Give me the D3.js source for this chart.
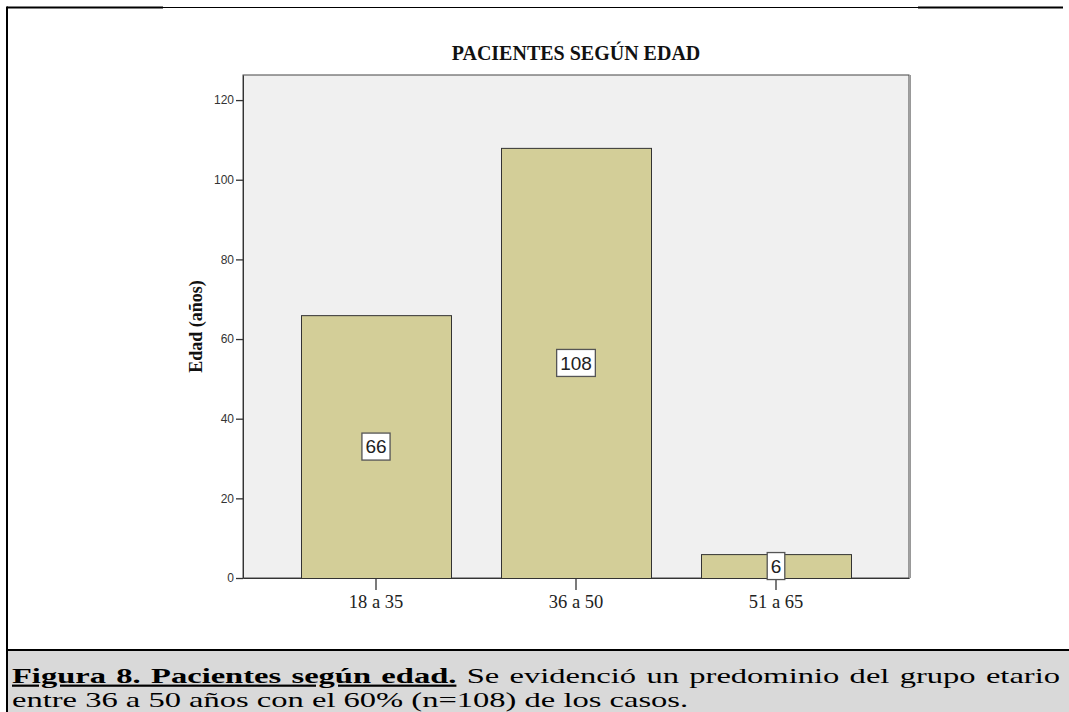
<!DOCTYPE html>
<html><head><meta charset="utf-8">
<script src="https://cdn.jsdelivr.net/npm/d3@7"></script>
<style>
html,body{margin:0;padding:0;background:#fff;}
svg{display:block;}
</style></head>
<body>
<svg id="chart" width="1069" height="712"></svg>
<script>
const categories = ["18 a 35", "36 a 50", "51 a 65"];
const values = [66, 108, 6];
const yTicks = [0, 20, 40, 60, 80, 100, 120];
const title = "PACIENTES SEGÚN EDAD";
const yLabel = "Edad (años)";
const captionBold = "Figura 8. Pacientes según edad.";
const captionLine1 = " Se evidenció un predominio del grupo etario";
const captionLine2 = "entre 36 a 50 años con el 60% (n=108) de los casos.";

const svg = d3.select("#chart");
const plot = {left: 243, right: 909, top: 75, bottom: 578};
const serif = "Liberation Serif, Times New Roman, serif";

// outer frame
svg.append("rect").attr("x", 0).attr("y", 0).attr("width", 1069).attr("height", 712).attr("fill", "#fff");
svg.append("rect").attr("x", 7).attr("y", 650).attr("width", 1062).attr("height", 62).attr("fill", "#d9d9d9");
svg.append("line").attr("x1", 7).attr("x2", 163).attr("y1", 7.5).attr("y2", 7.5).attr("stroke", "#000").attr("stroke-width", 2);
svg.append("line").attr("x1", 163).attr("x2", 918).attr("y1", 7.5).attr("y2", 7.5).attr("stroke", "#000").attr("stroke-width", 1);
svg.append("line").attr("x1", 918).attr("x2", 1063).attr("y1", 7.5).attr("y2", 7.5).attr("stroke", "#000").attr("stroke-width", 2);
svg.append("line").attr("x1", 7).attr("x2", 7).attr("y1", 6.5).attr("y2", 712).attr("stroke", "#000").attr("stroke-width", 2);
svg.append("line").attr("x1", 6).attr("x2", 1069).attr("y1", 650).attr("y2", 650).attr("stroke", "#000").attr("stroke-width", 2);

// scales
const x = d3.scaleBand().domain(categories).range([plot.left, plot.right]).paddingInner(0.25).paddingOuter(0.29);
const y = d3.scaleLinear().domain([0, 126.3]).range([plot.bottom, plot.top]);

// plot background
svg.append("rect").attr("x", plot.left).attr("y", plot.top)
  .attr("width", plot.right - plot.left).attr("height", plot.bottom - plot.top)
  .attr("fill", "#f0f0f0").attr("stroke", "#444").attr("stroke-width", 1);
svg.append("line").attr("x1", plot.right + 1.5).attr("x2", plot.right + 1.5)
  .attr("y1", plot.top).attr("y2", plot.bottom).attr("stroke", "#999").attr("stroke-width", 1);

// bars
svg.append("g").selectAll("rect").data(values).join("rect")
  .attr("x", (d, i) => x(categories[i]) + 0.5)
  .attr("y", d => y(d) + 0.5)
  .attr("width", x.bandwidth())
  .attr("height", d => y(0) - y(d))
  .attr("fill", "#d3ce98").attr("stroke", "#333").attr("stroke-width", 1);

// y axis
const yAxis = d3.axisLeft(y).tickValues(yTicks).tickSize(7).tickSizeOuter(0).tickPadding(2);
const yg = svg.append("g").attr("transform", `translate(${plot.left},0)`).call(yAxis);
yg.select(".domain").attr("stroke", "#333");
yg.selectAll(".tick line").attr("stroke", "#333").attr("stroke-width", 1.3);
yg.selectAll(".tick text").attr("font-family", "Liberation Sans, Arial, sans-serif").attr("font-size", 12).attr("fill", "#333");

// x axis
const xAxis = d3.axisBottom(x).tickSize(12).tickSizeOuter(0).tickPadding(4.5);
const xg = svg.append("g").attr("transform", `translate(0,${plot.bottom})`).call(xAxis);
xg.select(".domain").attr("stroke", "#333");
xg.selectAll(".tick line").attr("stroke", "#333").attr("stroke-width", 1.3);
xg.selectAll(".tick text").attr("font-family", serif).attr("font-size", 18.5).attr("fill", "#222");

// value labels
const lab = svg.append("g").selectAll("g").data(values).join("g")
  .attr("transform", (d, i) => `translate(${x(categories[i]) + x.bandwidth() / 2},${y(d / 2)})`);
lab.each(function(d) {
  const g = d3.select(this);
  const r = g.append("rect");
  const t = g.append("text").text(d)
    .attr("font-family", "Liberation Sans Narrow, Arial Narrow, sans-serif").attr("font-size", 19)
    .attr("fill", "#222").attr("text-anchor", "middle").attr("dy", "0.36em");
  const w = t.node().getComputedTextLength() + 7;
  r.attr("x", -w / 2).attr("y", -13.5).attr("width", w).attr("height", 27)
    .attr("fill", "#fff").attr("stroke", "#555").attr("stroke-width", 1.3);
});

// title
svg.append("text").attr("x", (plot.left + plot.right) / 2).attr("y", 60)
  .attr("text-anchor", "middle").attr("font-family", serif)
  .attr("font-weight", "bold").attr("font-size", 20).attr("fill", "#111").text(title);

// y label
svg.append("text").attr("transform", `translate(202,${(plot.top + plot.bottom) / 2}) rotate(-90)`)
  .attr("text-anchor", "middle").attr("font-family", serif)
  .attr("font-weight", "bold").attr("font-size", 18).attr("fill", "#111").text(yLabel);

// caption (text in the source is horizontally stretched)
const capSize = 22, sx = 1.48;
const capG = svg.append("g").attr("transform", `translate(12,0) scale(${sx},1)`);
const cap1 = capG.append("text").attr("x", 0).attr("y", 683)
  .attr("font-family", serif).attr("font-size", capSize).attr("fill", "#000");
cap1.append("tspan").attr("font-weight", "bold").attr("text-decoration", "underline").text(captionBold);
cap1.append("tspan").text(captionLine1);
const natural = cap1.node().getComputedTextLength();
const nSpaces = (captionBold + captionLine1).split(" ").length - 1;
const target = (1060 - 12) / sx;
cap1.attr("word-spacing", Math.max(0, (target - natural) / nSpaces));
capG.append("text").attr("x", 0).attr("y", 707)
  .attr("font-family", serif).attr("font-size", capSize).attr("fill", "#000")
  .text(captionLine2);
</script>
</body></html>
